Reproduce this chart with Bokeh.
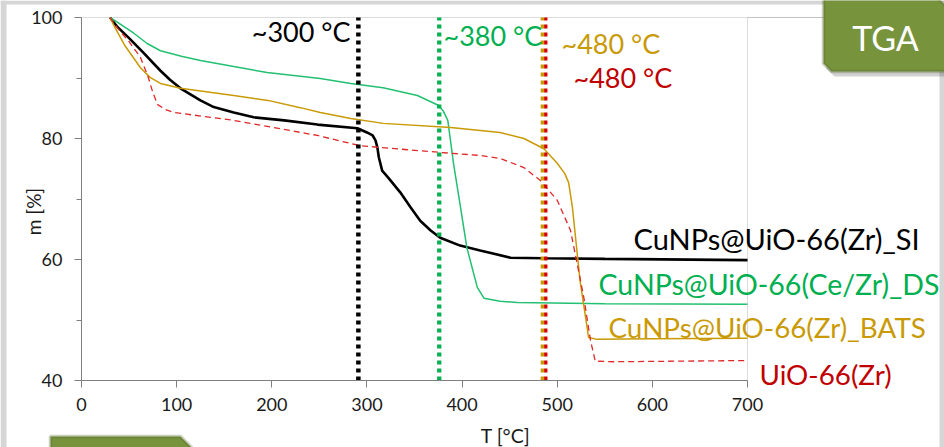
from bokeh.plotting import figure
from bokeh.models import Label, PolyAnnotation, BoxAnnotation, FixedTicker, Range1d
from bokeh.embed import file_html
from bokeh.resources import INLINE

# ---- data ----
T_SI = [30, 38, 50, 65, 83, 93, 104, 125, 139, 160, 181, 213, 248, 290, 300, 306, 309, 311, 312.5, 316, 323, 335, 346, 356, 367, 377, 398, 419, 451, 486, 550, 700]
m_SI = [100, 98.4, 96.6, 94.2, 91.2, 89.7, 88.3, 86.3, 85.2, 84.3, 83.5, 83.0, 82.3, 81.7, 81.0, 80.5, 79.7, 78.5, 76.9, 74.7, 73.4, 71.1, 68.6, 66.4, 64.8, 63.6, 62.3, 61.5, 60.3, 60.2, 60.1, 59.9]

T_DS = [30, 38, 55, 69, 83, 105, 125, 160, 195, 251, 283, 317, 353, 375, 380, 385, 391, 398, 405, 416, 423, 440, 458, 550, 700]
m_DS = [100, 99.2, 97.4, 95.7, 94.5, 93.6, 92.9, 91.9, 90.9, 89.9, 89.1, 88.4, 87.1, 85.5, 84.6, 83.0, 75.9, 69.0, 62.0, 55.4, 53.6, 53.1, 52.9, 52.7, 52.6]

T_BATS = [30, 34, 45, 62, 72, 83, 104, 160, 196, 230, 251, 283, 317, 388, 440, 465, 486, 500, 508, 512, 516, 524, 533, 542, 600, 700]
m_BATS = [100, 98.7, 95.5, 91.7, 90.1, 89.1, 88.3, 87.1, 86.3, 85.1, 84.3, 83.3, 82.5, 81.8, 81.0, 80.0, 78.3, 75.9, 74.2, 72.7, 68.6, 56.5, 47.1, 46.8, 46.9, 47.0]

T_UIO = [30, 38, 50, 62, 70, 75, 80, 88, 97, 160, 248, 293, 377, 419, 440, 465, 482, 500, 514, 528, 535, 540, 560, 700]
m_UIO = [100, 98.2, 96.0, 93.4, 90.2, 87.6, 85.6, 84.8, 84.3, 83.0, 80.5, 78.8, 77.7, 77.2, 76.7, 75.2, 73.1, 69.8, 64.8, 53.7, 46.6, 43.2, 43.1, 43.3]

series_names = ["CuNPs@UiO-66(Zr)_SI", "CuNPs@UiO-66(Ce/Zr)_DS", "CuNPs@UiO-66(Zr)_BATS", "UiO-66(Zr)"]
onset_T = [291, 376, 484.5, 488]
onset_labels = ["~300 °C", "~380 °C", "~480 °C", "~480 °C"]
x_ticks = [0, 100, 200, 300, 400, 500, 600, 700]
y_ticks = [40, 60, 80, 100]
y_minor = [50, 70, 90]

FONT = "Lato"
BLACK = "#000000"
GREEN = "#00B050"
GREEN_LINE = "#22C070"
ORANGE = "#C99A06"
RED_TXT = "#C00000"
RED_LINE = "#E02828"

W, H = 944, 447
# plot area placement on the canvas (pixels)
PX0, PX1, PY0, PY1 = 81, 747, 17, 380
XMIN, XMAX, YMIN, YMAX = 0, 700, 40, 100
sx = (PX1 - PX0) / (XMAX - XMIN)
sy = (PY1 - PY0) / (YMAX - YMIN)


def dx(px):
    return XMIN + (px - PX0) / sx


def dy(py):
    return YMAX - (py - PY0) / sy


p = figure(width=W, height=H, output_backend="svg", toolbar_location=None,
           x_range=Range1d(dx(0), dx(W)), y_range=Range1d(dy(H), dy(0)),
           min_border=0, min_border_left=0, min_border_right=0, min_border_top=0, min_border_bottom=0)
p.grid.visible = False
p.outline_line_color = None
p.background_fill_color = "white"
p.border_fill_color = "white"

p.xaxis.ticker = FixedTicker(ticks=x_ticks)
p.yaxis.ticker = FixedTicker(ticks=y_ticks, minor_ticks=y_minor)
p.xaxis.fixed_location = YMIN
p.yaxis.fixed_location = XMIN
p.xaxis.bounds = (XMIN, XMAX)
p.yaxis.bounds = (YMIN, YMAX)
for ax in (p.xaxis[0], p.yaxis[0]):
    ax.axis_line_color = "#7f7f7f"
    ax.major_tick_line_color = "#7f7f7f"
    ax.minor_tick_line_color = "#7f7f7f"
    ax.major_tick_out = 7
    ax.major_tick_in = 0
    ax.minor_tick_in = 0
    ax.major_label_text_font = FONT
    ax.major_label_text_font_size = "18px"
    ax.major_label_text_color = "#1a1a1a"
p.xaxis.minor_tick_out = 0
p.yaxis.minor_tick_out = 5
p.xaxis.major_label_standoff = 10
p.yaxis.major_label_standoff = 12

# page edge strips (slide background)
EDGE = "#d6d6d6"
p.add_layout(BoxAnnotation(right=dx(6), fill_color=EDGE, fill_alpha=1, line_color=None, level="underlay"))
p.add_layout(BoxAnnotation(bottom=dy(4), fill_color=EDGE, fill_alpha=1, line_color=None, level="underlay"))
p.add_layout(BoxAnnotation(left=dx(939), fill_color=EDGE, fill_alpha=1, line_color=None, level="underlay"))

# plot frame
p.add_layout(BoxAnnotation(left=XMIN, right=XMAX, bottom=YMIN, top=YMAX, fill_alpha=0,
                           line_color="#8a8a8a", line_width=1, level="underlay"))
p.add_layout(BoxAnnotation(left=XMAX, right=dx(823), bottom=YMAX, top=YMAX, fill_alpha=0,
                           line_color="#8a8a8a", line_width=1, level="underlay"))

# curves
p.line(T_SI, m_SI, line_color=BLACK, line_width=2.6)
p.line(T_DS, m_DS, line_color=GREEN_LINE, line_width=1.5)
p.line(T_BATS, m_BATS, line_color=ORANGE, line_width=1.5)
p.line(T_UIO, m_UIO, line_color=RED_LINE, line_width=1.3, line_dash="6 4")

# onset dotted lines (limited to plot area)
span_colors = [BLACK, GREEN, ORANGE, "#D00000"]
span_widths = [4.5, 4.3, 3.6, 3.3]
for t, c, w in zip(onset_T, span_colors, span_widths):
    p.segment(x0=[t], y0=[YMIN], x1=[t], y1=[YMAX], line_color=c, line_width=w, line_dash="4 4")

# onset labels
lab_pos = [(dx(350), dy(31), "right"), (dx(443), dy(35), "left"), (dx(561), dy(43), "left"), (dx(573), dy(77), "left")]
lab_cols = [BLACK, GREEN, ORANGE, RED_TXT]
for (x, y, al), txt, c in zip(lab_pos, onset_labels, lab_cols):
    p.add_layout(Label(x=x, y=y, text=txt, text_color=c, text_font=FONT, text_font_size="27px",
                       text_align=al, text_baseline="middle"))

# series labels
ser_pos = [(dx(633), dy(238)), (dx(598), dy(283)), (dx(608), dy(327)), (dx(759), dy(374))]
ser_cols = [BLACK, GREEN, ORANGE, RED_TXT]
ser_sizes = ["29px", "28.5px", "27.8px", "27.8px"]
for (x, y), txt, c, fs in zip(ser_pos, series_names, ser_cols, ser_sizes):
    p.add_layout(Label(x=x, y=y, text=txt, text_color=c, text_font=FONT, text_font_size=fs,
                       text_align="left", text_baseline="middle"))

# axis titles
p.add_layout(Label(x=dx(33), y=dy(211), text="m [%]", text_font=FONT, text_font_size="19px", angle=1.5708,
                   text_align="center", text_baseline="middle", text_color="#1a1a1a"))
p.add_layout(Label(x=dx(505), y=dy(435), text="T [°C]", text_font=FONT, text_font_size="19.5px",
                   text_align="center", text_baseline="middle", text_color="#1a1a1a"))

# badges
def badge(pts, shadow=True):
    if shadow:
        p.add_layout(PolyAnnotation(xs=[dx(a + 3) for a, b in pts], ys=[dy(b + 5) for a, b in pts],
                                    fill_color="#000000", fill_alpha=0.18, line_color=None))
    p.add_layout(PolyAnnotation(xs=[dx(a) for a, b in pts], ys=[dy(b) for a, b in pts],
                                fill_color="#77933C", fill_alpha=1, line_color="#4F6228", line_width=3.5))


badge([(823, -5), (935, -5), (950, 10), (950, 71), (831, 71), (823, 63)])
p.add_layout(Label(x=dx(885), y=dy(37), text="TGA", text_font=FONT, text_font_size="34px", text_color="white",
                   text_align="center", text_baseline="middle"))
badge([(50, 436), (180, 436), (192, 448), (192, 460), (50, 460)], shadow=False)

open("out.html", "w").write(file_html(p, INLINE))
